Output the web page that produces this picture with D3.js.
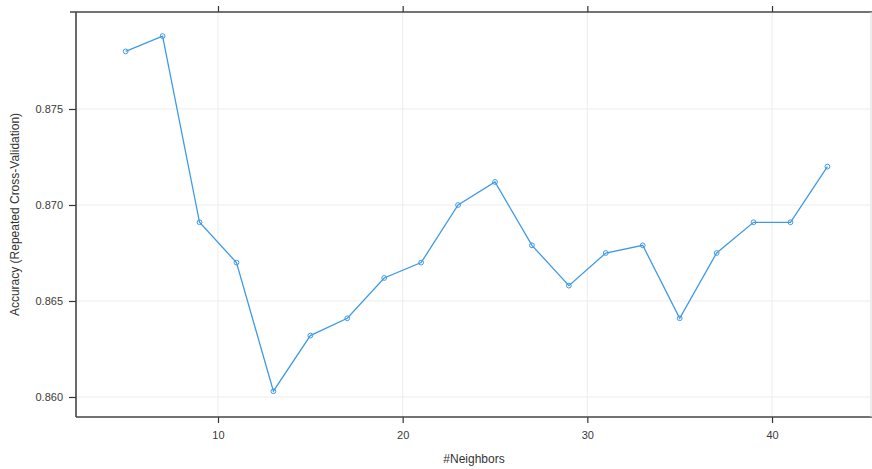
<!DOCTYPE html>
<html>
<head>
<meta charset="utf-8">
<script src="https://cdn.jsdelivr.net/npm/d3@7"></script>
<style>
  html, body { margin: 0; padding: 0; background: #fff; }
  svg { display: block; font-family: "Liberation Sans", Arial, sans-serif; }
</style>
</head>
<body>
<svg id="chart" width="872" height="469"></svg>
<script>
// Number of neighbours tried by the k-NN tuning grid
const neighbors = [5, 7, 9, 11, 13, 15, 17, 19, 21, 23, 25, 27, 29, 31, 33, 35, 37, 39, 41, 43];
// Resampled accuracy for each value of k
const accuracy = [0.8780, 0.8788, 0.8691, 0.8670, 0.8603, 0.8632, 0.8641, 0.8662, 0.8670, 0.8700,
                  0.8712, 0.8679, 0.8658, 0.8675, 0.8679, 0.8641, 0.8675, 0.8691, 0.8691, 0.8720];
const xTicks = [10, 20, 30, 40];
const yTicks = [0.860, 0.865, 0.870, 0.875];
const xTitle = "#Neighbors";
const yTitle = "Accuracy (Repeated Cross-Validation)";

const svg = d3.select("#chart");
const panel = { left: 76, top: 12, right: 871, bottom: 417 };

const x = d3.scaleLinear().domain([2.311, 45.36]).range([panel.left, panel.right]);
const y = d3.scaleLinear().domain([0.858958, 0.880052]).range([panel.bottom, panel.top]);

const data = neighbors.map((k, i) => ({ k, acc: accuracy[i] }));

// reference grid
const grid = svg.append("g").attr("stroke", "#ececec").attr("stroke-width", 1);
grid.selectAll("line.v").data(xTicks).join("line")
  .attr("x1", d => x(d)).attr("x2", d => x(d))
  .attr("y1", panel.top).attr("y2", panel.bottom);
grid.selectAll("line.h").data(yTicks).join("line")
  .attr("x1", panel.left).attr("x2", panel.right)
  .attr("y1", d => y(d)).attr("y2", d => y(d));

// series line and open markers
const blue = "#3f9ae6";
svg.append("path").datum(data)
  .attr("fill", "none").attr("stroke", blue).attr("stroke-width", 1.3)
  .attr("d", d3.line().x(d => x(d.k)).y(d => y(d.acc)));
svg.append("g").selectAll("circle").data(data).join("circle")
  .attr("cx", d => x(d.k)).attr("cy", d => y(d.acc)).attr("r", 2.4)
  .attr("fill", "none").attr("stroke", blue).attr("stroke-width", 1);

// axes
const styleAxis = g => {
  g.select(".domain").remove();
  g.selectAll(".tick line").attr("stroke", "#333").attr("stroke-width", 1.2);
  g.selectAll(".tick text").attr("fill", "#3a3a3a").style("font-size", "11px");
};
svg.append("g").attr("transform", `translate(${panel.left},0)`)
  .call(d3.axisLeft(y).tickValues(yTicks).tickFormat(d3.format(".3f")).tickSize(7).tickPadding(6))
  .call(styleAxis);
svg.append("g").attr("transform", `translate(0,${panel.bottom})`)
  .call(d3.axisBottom(x).tickValues(xTicks).tickFormat(d3.format("d")).tickSize(6).tickPadding(8))
  .call(styleAxis);
svg.append("g").attr("transform", `translate(0,${panel.top})`)
  .call(d3.axisTop(x).tickValues(xTicks).tickFormat("").tickSize(6))
  .call(styleAxis);

// panel frame
const frame = svg.append("g").attr("stroke", "#444").attr("stroke-width", 1.6).attr("fill", "none");
frame.append("line").attr("x1", panel.left - 6).attr("x2", panel.right + 1).attr("y1", panel.top).attr("y2", panel.top);
frame.append("line").attr("x1", panel.left).attr("x2", panel.left).attr("y1", panel.top).attr("y2", panel.bottom);
frame.append("line").attr("x1", panel.left).attr("x2", panel.right + 1).attr("y1", panel.bottom).attr("y2", panel.bottom);
frame.append("line").attr("x1", panel.right).attr("x2", panel.right).attr("y1", panel.top).attr("y2", panel.bottom)
  .attr("stroke", "#ddd").attr("stroke-width", 1);

// titles
svg.append("text").attr("x", 474).attr("y", 463).attr("text-anchor", "middle")
  .attr("fill", "#333").style("font-size", "12px").text(xTitle);
svg.append("text").attr("transform", `translate(19,${(panel.top + panel.bottom) / 2}) rotate(-90)`)
  .attr("text-anchor", "middle").attr("fill", "#333").style("font-size", "12px").text(yTitle);
</script>
</body>
</html>
